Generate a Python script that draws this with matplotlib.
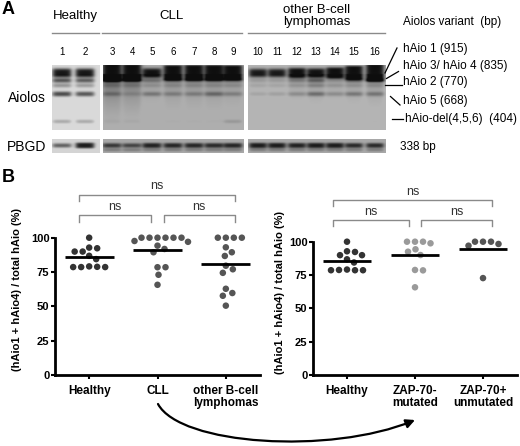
import numpy as np
import matplotlib.pyplot as plt
from matplotlib.patches import FancyArrowPatch
from matplotlib.path import Path

plt.rcParams["font.family"] = ["Liberation Sans", "DejaVu Sans"]

# ---------------- panel A: gel readings (band strength per lane, 0 = none)
lane_numbers = list(range(1, 17))
gel_groups = ["Healthy", "CLL", "other B-cell\nlymphomas"]
variant_labels = ["hAio 1 (915)", "hAio 3/ hAio 4 (835)", "hAio 2 (770)",
                  "hAio 5 (668)", "hAio-del(4,5,6)  (404)"]
hAio1 = [4, 4, 1500, 800, 5, 230, 300, 300, 200, 3, 3, 8, 5, 15, 100, 1000]
hAio34 = [1.0, 0.9, 0.3, 0.3, 0.35, 0.3, 0.3, 0.3, 0.3, 0.15, 0.15, 0.3, 0.5, 0.15, 0.4, 0.5]
hAio2 = [0.4, 0.35, 0.15, 0.15, 0.15, 0.15, 0.15, 0.15, 0.15, 0.1, 0.1, 0.15, 0.25, 0.15, 0.15, 0.15]
hAio5 = [1.3, 1.1, 0.3, 0.15, 0.4, 0.3, 0.3, 0.5, 0.3, 0.12, 0.15, 0.25, 0.5, 0.25, 0.4, 0.4]
hAio_del = [0.35, 0.35, 0.05, 0.05, 0.05, 0.05, 0.05, 0.05, 0.2, 0.05, 0.05, 0.05, 0.05, 0.05, 0.05, 0.05]
smear = [0.05, 0.05, 0.55, 0.45, 0.15, 0.25, 0.25, 0.25, 0.2,
         0.05, 0.05, 0.15, 0.2, 0.15, 0.2, 0.25]
pbgd = [1.0, 4.0, 1.5, 1.2, 2.5, 2.2, 2.2, 2.0, 2.2, 3.0, 3.0, 2.5, 3.0, 3.0, 2.0, 2.0]
pbgd_low = [0, 0, 0.4, 0.4, 0.4, 0.4, 0.4, 0.4, 0.4, 0.4, 0.4, 0.4, 0.4, 0.4, 0.4, 0.4]

# ---------------- panel B: % (hAio1 + hAio4) / total hAio
healthy = [100, 92.8, 92.3, 89.9, 89.9, 86.8, 84.4, 79.1, 78.6, 78.6, 78.6, 78.8]
cll = [100, 100, 100, 100, 100, 100, 97.6, 97.0, 94.2, 91.8, 89.4, 78.5, 78.5, 73.0, 65.7]
other = [100, 100, 100, 100, 93.0, 89.4, 86.7, 79.6, 77.0, 74.4, 62.8, 59.7, 57.7, 50.5]
zap_neg = [100, 100, 98.8, 100, 94.3, 92.5, 90.0, 78.8, 78.5, 65.8]
zap_pos = [100, 98.3, 97.0, 100, 100, 72.7]

left_names = ["Healthy", "CLL", "other B-cell\nlymphomas"]
right_names = ["Healthy", "ZAP-70-\nmutated", "ZAP-70+\nunmutated"]
left_colors = ["#333333", "#555555", "#555555"]
right_colors = ["#333333", "#9a9a9a", "#555555"]
ylabel = "(hAio1 + hAio4) / total hAio (%)"

fig = plt.figure(figsize=(5.2, 4.46), dpi=100)
bg = fig.add_axes([0, 0, 1, 1])
bg.set_axis_off()


def gel_panel(ax, x0, x1, y0, y1, centers, width, base, bands, lane_smear=None):
    xs = np.arange(x0, x1, 0.5) + 0.25
    ys = np.arange(y0, y1, 0.5) + 0.25
    X, Y = np.meshgrid(xs, ys)
    dark = np.zeros_like(X)
    for i, xc in enumerate(centers):
        lane = 1 / (1 + np.exp((np.abs(X - xc) - width / 2) / 1.2))
        for yc, sig, amounts in bands:
            g = np.exp(-0.5 * ((Y - yc) / sig) ** 2)
            dark += lane * (1 - np.exp(-amounts[i] * g))
        if lane_smear is not None:
            dark += lane * lane_smear[i] * np.exp(-np.clip(Y - 76, 0, None) / 22) * (Y > 74)
    dark += 0.08 * (Y - y0) / (y1 - y0) * -1
    img = base * (1 - 0.92 * np.clip(dark, 0, 1))
    ax.imshow(img, extent=(x0, x1, y1, y0), cmap="gray", vmin=0, vmax=1,
              interpolation="bilinear", aspect="auto", zorder=1)


lane_x = [62, 85, 112, 132, 152, 173, 194, 214, 233, 258, 277, 297, 316, 335, 354, 375]
panels = [(52, 100, slice(0, 2), 18, 0.85, 0.83), (103, 244, slice(2, 9), 18, 0.68, 0.66),
          (248, 386, slice(9, 16), 17, 0.71, 0.66)]
for x0, x1, sl, w, base, pbase in panels:
    centers = lane_x[sl]
    bands = [(73, 2.2, hAio1[sl]), (80.5, 1.4, hAio34[sl]), (85.5, 1.4, hAio2[sl]),
             (94, 1.5, hAio5[sl]), (121.5, 1.5, hAio_del[sl])]
    gel_panel(bg, x0, x1, 65, 130, centers, w, base, bands, smear[sl])
    gel_panel(bg, x0, x1, 139, 153, centers, w, pbase,
              [(145.5, 1.4, pbgd[sl]), (150, 1.2, pbgd_low[sl])])

group_spans = [(52, 99), (102, 242), (248, 385)]
for name, (a, b) in zip(gel_groups, group_spans):
    bg.plot([a, b], [33, 33], color="#8a8a8a", lw=1)
    bg.text((a + b) / 2, 16, name, ha="center", va="center", fontsize=9.5, linespacing=1.1)
for n, xc in zip(lane_numbers, lane_x):
    bg.text(xc, 52, str(n), ha="center", va="center", fontsize=7)

bg.text(2, 9, "A", fontsize=13, fontweight="bold", va="center")
bg.text(2, 177, "B", fontsize=13, fontweight="bold", va="center")
bg.text(8, 98, "Aiolos", fontsize=10, va="center")
bg.text(7, 147, "PBGD", fontsize=10, va="center")
bg.text(400, 147, "338 bp", fontsize=8.5, va="center")
bg.text(403, 22.5, "Aiolos variant  (bp)", fontsize=8.5, va="center")

label_y = [49, 66, 82, 101, 119]
pointers = [((385, 73), (397, 48)), ((386.5, 78.5), (398.5, 71.5)), ((385, 85), (401.5, 85)),
            ((390.5, 96.5), (400, 105)), ((391.5, 118.5), (403, 118.5))]
for txt, ty, (p0, p1) in zip(variant_labels, label_y, pointers):
    bg.text(403 if "del" not in txt else 405, ty, txt, fontsize=8.5, va="center")
    bg.plot([p0[0], p1[0]], [p0[1], p1[1]], color="black", lw=0.9)

# curved arrow CLL -> ZAP-70 split
arrow_path = Path([(158, 404), (180, 445), (330, 455), (415, 420)],
                  [Path.MOVETO, Path.CURVE4, Path.CURVE4, Path.CURVE4])
bg.add_patch(FancyArrowPatch(path=arrow_path, arrowstyle="-|>", mutation_scale=13,
                             color="black", lw=1.6, zorder=5))
bg.set_xlim(0, 520)
bg.set_ylim(446, 0)


def swarm(ax, xc, vals, d=8.0):
    vals = np.asarray(vals, dtype=float)
    pts = ax.transData.transform(np.column_stack([np.full(len(vals), xc), vals]))
    px_per_x = ax.transData.transform((1, 0))[0] - ax.transData.transform((0, 0))[0]
    ys = pts[:, 1]
    offs = np.zeros(len(vals))
    placed = []
    steps = np.arange(0, 40, 0.5)
    cands = np.concatenate([[0], np.ravel(np.column_stack([steps[1:], -steps[1:]]))])
    for i in np.argsort(-vals, kind="stable"):
        for c in cands:
            if all((c - ox) ** 2 + (ys[i] - oy) ** 2 >= (d * 0.95) ** 2 for ox, oy in placed):
                offs[i] = c
                placed.append((c, ys[i]))
                break
    return xc + offs / px_per_x


def dot_plot(rect, groups, names, colors, brackets, inset, label_x):
    ax = fig.add_axes(rect)
    ax.set_facecolor("none")
    ax.set_xlim(-0.5, 2.5)
    ax.set_ylim(0, 100)
    for k, (vals, col) in enumerate(zip(groups, colors)):
        ax.scatter(swarm(ax, k, vals), vals, s=22, color=col, edgecolors="none",
                   clip_on=False, zorder=3)
        ax.plot([k - 0.36, k + 0.36], [np.mean(vals)] * 2, color="black", lw=2,
                solid_capstyle="butt", zorder=4, clip_on=False)
    for s in ["top", "right"]:
        ax.spines[s].set_visible(False)
    for s in ["left", "bottom"]:
        ax.spines[s].set_linewidth(2)
    ax.set_yticks([0, 25, 50, 75, 100])
    ax.set_xticks(range(3))
    ax.set_xticklabels(names, fontsize=8.5, fontweight="bold", linespacing=1.05)
    ax.tick_params(axis="y", labelsize=8, width=1.5, length=3, pad=1)
    ax.tick_params(axis="x", width=1.5, length=3, pad=4)
    for lab in ax.get_yticklabels():
        lab.set_fontweight("bold")
    ax.set_ylabel(ylabel, fontsize=8, fontweight="bold")
    ax.yaxis.set_label_coords(label_x, 0.62)
    for i, j, y_line, y_tip, y_txt in brackets:
        a = i - inset if i == 0 else i + 0.09
        b = j + 0.13 if j == 2 else j - 0.09
        ax.plot([a, a, b, b], [y_tip, y_line, y_line, y_tip], color="#8a8a8a", lw=1,
                clip_on=False)
        ax.text((a + b) / 2, y_txt, "ns", ha="center", va="center", fontsize=9,
                color="#333333")
    return ax


br = [(0, 2, 131, 127, 137.5), (0, 1, 116.5, 111.5, 122.5), (1, 2, 116.5, 111.5, 122.5)]
dot_plot([55 / 520, 1 - 375 / 446, 205 / 520, 137.3 / 446],
         [healthy, cll, other], left_names, left_colors, br, 0.15, -0.16)
dot_plot([313 / 520, 1 - 375 / 446, 204 / 520, 133.3 / 446],
         [healthy, zap_neg, zap_pos], right_names, right_colors, br, 0.2, -0.135)

fig.savefig("out.png", dpi=100)
